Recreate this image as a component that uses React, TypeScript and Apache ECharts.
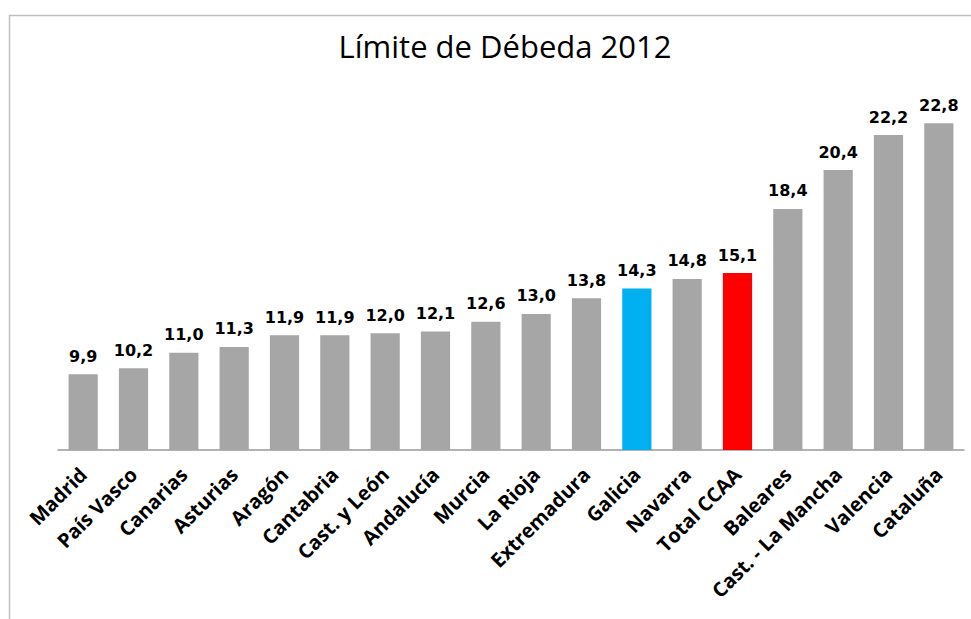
import React, { useEffect, useRef } from "react";
import * as echarts from "echarts";

const categories = [
  "Madrid", "País Vasco", "Canarias", "Asturias", "Aragón", "Cantabria",
  "Cast. y León", "Andalucía", "Murcia", "La Rioja", "Extremadura", "Galicia",
  "Navarra", "Total CCAA", "Baleares", "Cast. - La Mancha", "Valencia", "Cataluña",
];
const values = [9.9, 10.2, 11.0, 11.3, 11.9, 11.9, 12.0, 12.1, 12.6, 13.0, 13.8, 14.3, 14.8, 15.1, 18.4, 20.4, 22.2, 22.8];
const highlight: Record<string, string> = { "Galicia": "#00b0f0", "Total CCAA": "#ff0000" };
const titleText = "Límite de Débeda 2012";

export default function App() {
  const ref = useRef<HTMLDivElement>(null);
  useEffect(() => {
    if (!ref.current) return;
    const chart = echarts.init(ref.current, null, { renderer: "svg" });
    chart.setOption({
      animation: false,
      backgroundColor: "#ffffff",
      title: {
        text: titleText,
        left: 500,
        top: 25,
        textAlign: "center",
        textStyle: { fontFamily: "Open Sans", fontSize: 31, fontWeight: "normal", color: "#000" },
      },
      graphic: [
        {
          type: "rect",
          shape: { x: 9.5, y: 15.5, width: 1000, height: 700 },
          style: { fill: "none", stroke: "#c0c0c0", lineWidth: 1.5 },
          silent: true,
        },
      ],
      grid: { left: 58, right: 7, top: 100, bottom: 169 },
      xAxis: {
        type: "category",
        data: categories,
        axisLine: { lineStyle: { color: "#999999", width: 1.5 } },
        axisTick: { length: 6, lineStyle: { color: "#999999", width: 1.5 } },
        axisLabel: {
          rotate: 45,
          interval: 0,
          margin: 21,
          fontFamily: "Open Sans",
          fontWeight: "bold",
          fontSize: 20,
          color: "#000",
        },
      },
      yAxis: {
        type: "value",
        min: 6,
        max: 24,
        show: false,
        splitLine: { show: false },
      },
      series: [
        {
          type: "bar",
          barWidth: "58%",
          data: values.map((v, i) => ({
            value: v,
            itemStyle: { color: highlight[categories[i]] || "#a6a6a6" },
          })),
          label: {
            show: true,
            position: "top",
            distance: 10,
            fontFamily: "DejaVu Sans",
            fontWeight: "bold",
            fontSize: 16,
            color: "#000",
            formatter: (p: any) => p.value.toFixed(1).replace(".", ","),
          },
        },
      ],
    });
    return () => chart.dispose();
  }, []);
  return <div ref={ref} style={{ position: "fixed", left: 0, top: 0, width: 971, height: 619 }} />;
}
